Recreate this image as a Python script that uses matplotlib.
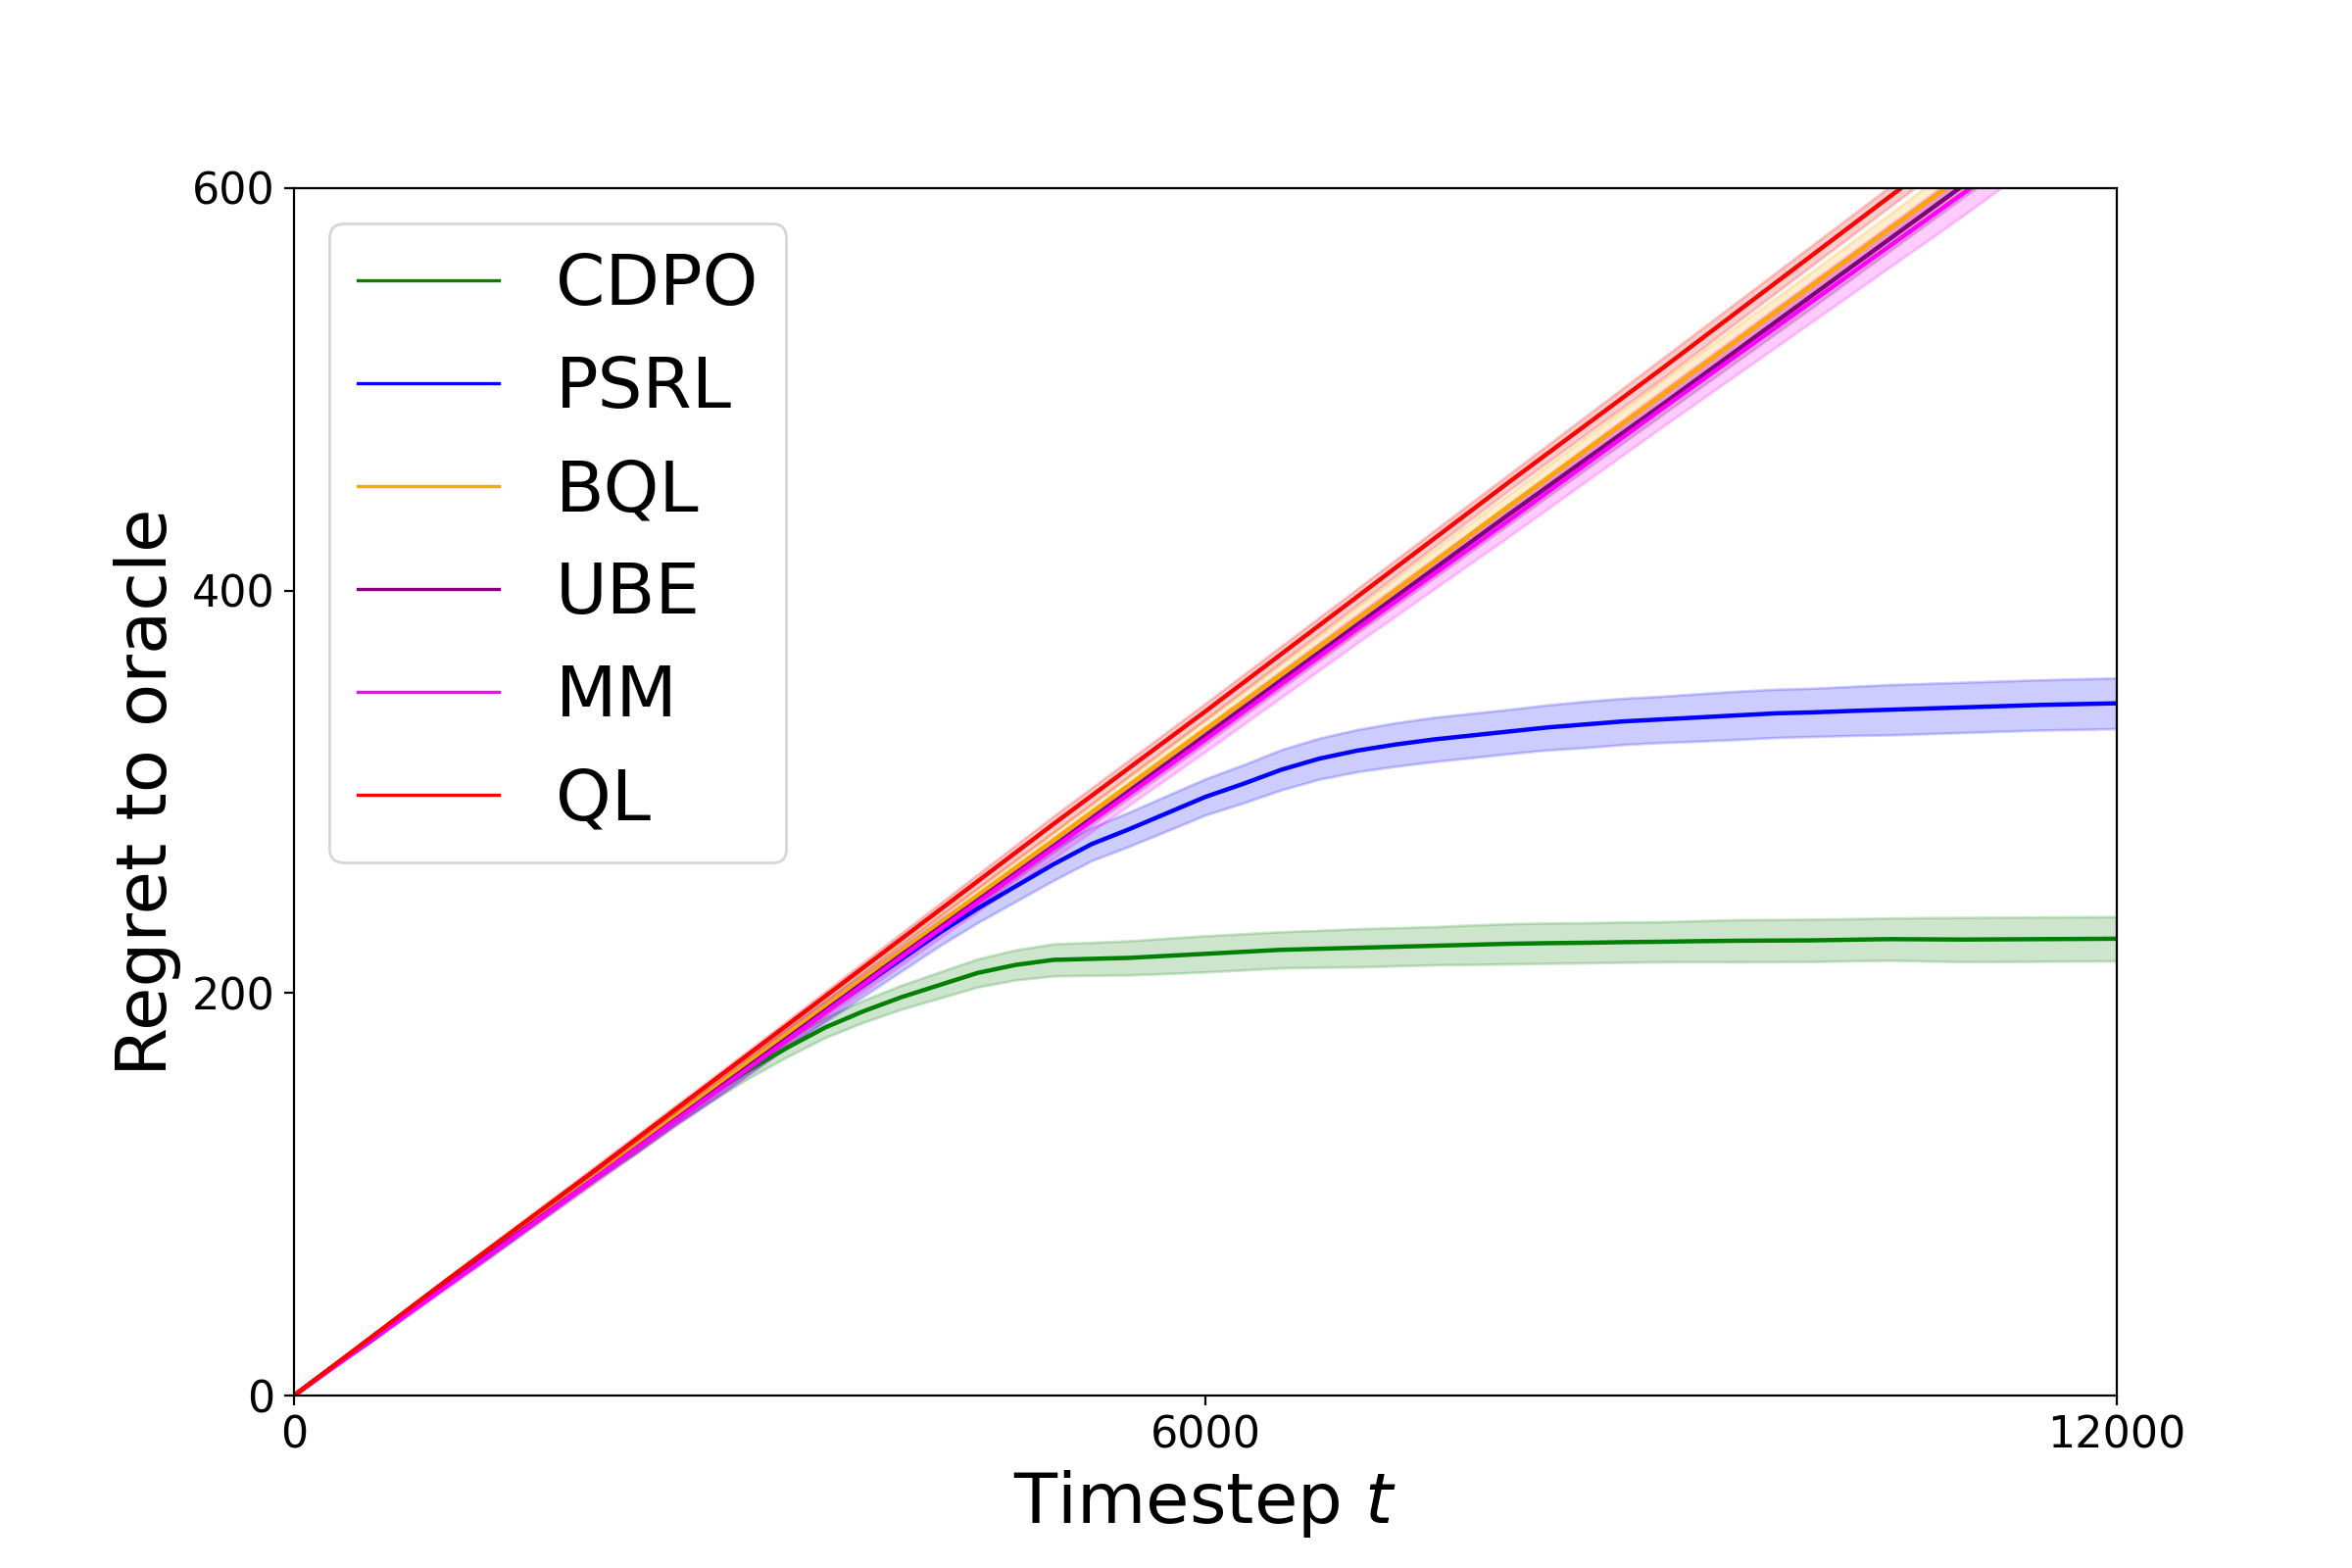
import numpy as np
import matplotlib
matplotlib.use('Agg')
import matplotlib.pyplot as plt


# grids: fine one for the curved runs, coarse one for the straight ones
t_fine = np.arange(0, 12001, 250)
t_coarse = np.arange(0, 12001, 1000)

# mean regret
cdpo = [0, 14, 27, 41, 55, 68, 82, 96, 110, 123,
        137, 150, 162, 173, 183, 191, 198, 204, 210, 214,
        216.5, 217, 217.5, 218.5, 219.5, 220.5, 221.5, 222, 222.5, 223,
        223.5, 224, 224.5, 224.8, 225, 225.3, 225.5, 225.8, 226, 226.1,
        226.2, 226.5, 226.8, 226.7, 226.6, 226.7, 226.8, 226.9, 227]
psrl = [0, 14, 27, 41, 55, 68, 82, 96, 110, 123,
        137, 150, 164, 178, 191, 204, 217, 230, 242, 253,
        264, 274, 281.5, 289.5, 297.5, 304, 311, 316.5, 320.5, 323.5,
        326, 328, 330, 332, 333.5, 335, 336, 337, 338, 339,
        339.5, 340.2, 340.8, 341.4, 342, 342.6, 343.2, 343.6, 344]
bql = [0, 55, 110, 166, 221, 276, 331, 386, 442, 497, 552, 607, 662]
ube = [0, 55, 109, 164, 219, 273, 328, 383, 438, 492, 547, 602, 656]
mm = [0, 54, 109, 163, 218, 272, 326, 381, 435, 490, 544, 598, 653]
ql = [0, 57, 113, 170, 227, 284, 340, 397, 454, 510, 567, 624, 680]

# half widths of the shaded bands
cdpo_err = [0, 0.3, 0.5, 0.8, 1, 1.3, 1.5, 1.8, 2, 2.5,
            3, 3.5, 4, 4.5, 5, 5.5, 6, 6.5, 7, 7.5,
            8, 8.2, 8.5, 8.8, 9, 9, 9, 9.2, 9.5, 9.5,
            9.5, 9.8, 10, 10, 10, 10, 10, 10.2, 10.5, 10.5,
            10.5, 10.5, 10.5, 10.8, 11, 11, 11, 11, 11]
psrl_err = [0, 0.3, 0.5, 0.8, 1, 1.3, 1.5, 1.8, 2, 2.5,
            3, 3.5, 4, 4.5, 5, 5.5, 6, 6.5, 7, 7.5,
            8, 8.2, 8.5, 8.8, 9, 9.5, 10, 10.2, 10.5, 10.8,
            11, 11, 11, 11.2, 11.5, 11.5, 11.5, 11.8, 12, 12,
            12, 12.2, 12.5, 12.5, 12.5, 12.5, 12.5, 12.6, 12.6]
bql_err = [0, 1, 2, 3, 4, 4, 5, 6, 6, 7, 7, 8, 8]
ube_err = [0, 1, 2, 2, 3, 3, 4, 4, 5, 5, 6, 6, 6]
mm_err = [0, 1, 2, 3, 4, 5, 6, 7, 8, 9, 10, 11, 11]
ql_err = [0, 1, 2, 2, 3, 4, 4, 4, 4, 5, 5, 5, 5]

names = ['CDPO', 'PSRL', 'BQL', 'UBE', 'MM', 'QL']
colors = ['green', 'blue', 'orange', 'purple', 'magenta', 'red']


if __name__ == "__main__":

    grids = [t_fine, t_fine, t_coarse, t_coarse, t_coarse, t_coarse]
    means = [cdpo, psrl, bql, ube, mm, ql]
    errs = [cdpo_err, psrl_err, bql_err, ube_err, mm_err, ql_err]

    fig, ax = plt.subplots(figsize=(12, 8))

    for name, c, t, m, e in zip(names, colors, grids, means, errs):

        m = np.array(m, dtype=float)
        e = np.array(e, dtype=float)

        ax.fill_between(t, m - e, m + e, color=c, alpha=0.2, linewidth=1)

        ax.plot(t, m, color=c, linewidth=1.6, label=name)

    ax.set_xlim(0, 12000)
    ax.set_ylim(0, 600)

    ax.set_xticks([0, 6000, 12000])
    ax.set_yticks([0, 200, 400, 600])
    ax.tick_params(labelsize=16)

    ax.set_xlabel('Timestep $t$', fontsize=26)
    ax.set_ylabel('Regret to oracle', fontsize=26)

    leg = ax.legend(loc='upper left', fontsize=26)
    for line in leg.get_lines():
        line.set_linewidth(1.2)

    plt.savefig('out.png', dpi=200)
